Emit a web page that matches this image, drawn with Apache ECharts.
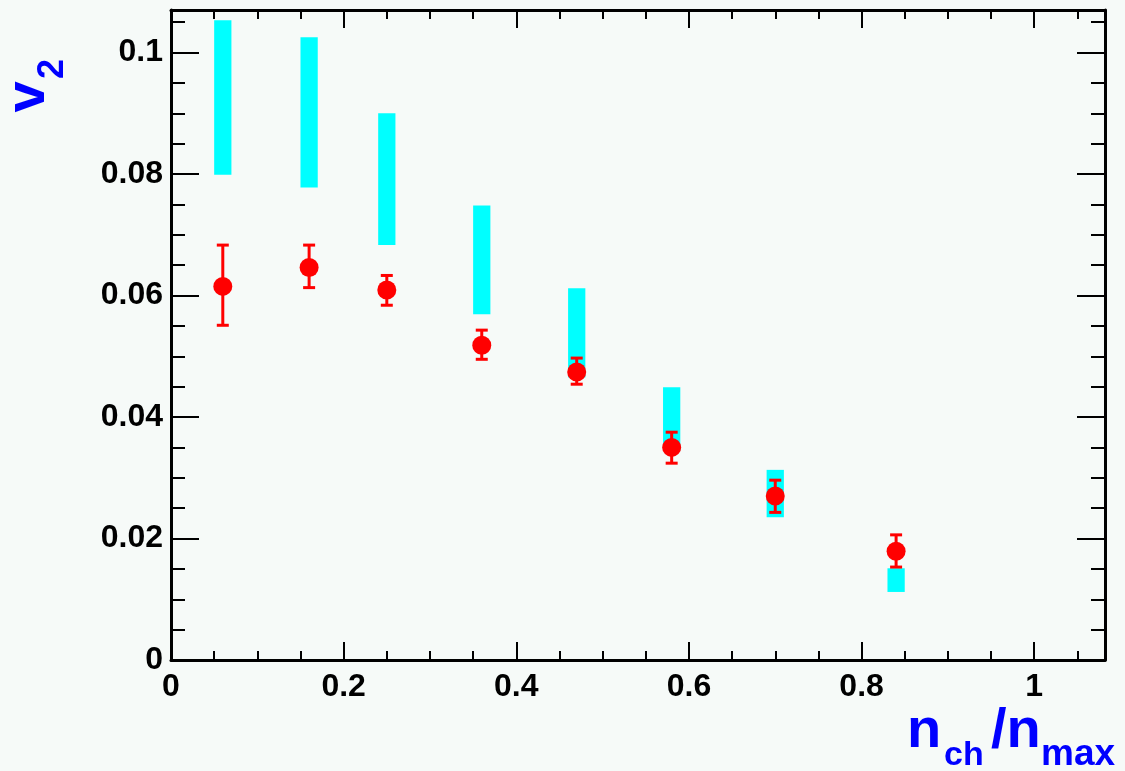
<!DOCTYPE html>
<html>
<head>
<meta charset="utf-8">
<script src="https://cdn.jsdelivr.net/npm/echarts@6/dist/echarts.min.js"></script>
<style>
  html, body { margin: 0; padding: 0; background: #f6faf8; }
  #container { width: 1125px; height: 771px; }
</style>
</head>
<body>
<div id="container"></div>
<script>
// v2 vs n_ch/n_max
const xs     = [0.06, 0.16, 0.25, 0.36, 0.47, 0.58, 0.70, 0.84];
const v2     = [0.0615, 0.0646, 0.0609, 0.0518, 0.0474, 0.0350, 0.0270, 0.0179];
const statLo = [0.0551, 0.0613, 0.0584, 0.0495, 0.0454, 0.0324, 0.0243, 0.0153];
const statHi = [0.0683, 0.0683, 0.0633, 0.0543, 0.0497, 0.0375, 0.0296, 0.0206];
const sysLo  = [0.0799, 0.0778, 0.0683, 0.0569, 0.0465, 0.0345, 0.0235, 0.0112];
const sysHi  = [0.1053, 0.1025, 0.0900, 0.0748, 0.0612, 0.0449, 0.0313, 0.0151];

const X_MAX = 1.082;
const Y_MAX = 0.107;
const BOX_HALF = 0.01;   // half width of systematic boxes (x units)
const CAP = 6;           // error bar cap half width, px

const chart = echarts.init(document.getElementById('container'), null, { renderer: 'canvas' });

const gridRect = { left: 171, right: 20, top: 10, bottom: 111 };
const labelFont = { color: '#000', fontFamily: 'Liberation Sans, Arial, sans-serif', fontWeight: 'bold', fontSize: 32 };
const black = '#000';

function xAx(gridIndex, position, interval, tickLen, withLabel, withLine) {
  return {
    type: 'value', gridIndex, position, min: 0, max: X_MAX, interval,
    axisLine: { show: withLine, onZero: false, lineStyle: { color: black, width: 3 } },
    axisTick: { show: true, inside: true, length: tickLen, lineStyle: { color: black, width: 2 } },
    axisLabel: { show: withLabel, margin: 11, showMaxLabel: false, ...labelFont },
    splitLine: { show: false }
  };
}
function yAx(gridIndex, position, interval, tickLen, withLabel, withLine) {
  return {
    type: 'value', gridIndex, position, min: 0, max: Y_MAX, interval,
    axisLine: { show: withLine, onZero: false, lineStyle: { color: black, width: 3 } },
    axisTick: { show: true, inside: true, length: tickLen, lineStyle: { color: black, width: 2 } },
    axisLabel: { show: withLabel, margin: 8, showMaxLabel: false, ...labelFont },
    splitLine: { show: false }
  };
}

function renderBox(params, api) {
  const x = api.value(0), lo = api.value(1), hi = api.value(2);
  const p1 = api.coord([x - BOX_HALF, hi]);
  const p2 = api.coord([x + BOX_HALF, lo]);
  return {
    type: 'rect',
    shape: { x: p1[0], y: p1[1], width: p2[0] - p1[0], height: p2[1] - p1[1] },
    style: { fill: '#00ffff' }
  };
}

function renderErr(params, api) {
  const x = api.value(0);
  const top = api.coord([x, api.value(2)]);
  const bot = api.coord([x, api.value(1)]);
  const st = { stroke: '#ff0000', lineWidth: 3 };
  return {
    type: 'group',
    children: [
      { type: 'line', shape: { x1: top[0], y1: top[1], x2: bot[0], y2: bot[1] }, style: st },
      { type: 'line', shape: { x1: top[0] - CAP, y1: top[1], x2: top[0] + CAP, y2: top[1] }, style: st },
      { type: 'line', shape: { x1: bot[0] - CAP, y1: bot[1], x2: bot[0] + CAP, y2: bot[1] }, style: st }
    ]
  };
}

const blueTitle = { fill: '#0000ff', fontFamily: 'Liberation Sans, Arial, sans-serif', fontWeight: 'bold' };

const option = {
  backgroundColor: '#f6faf8',
  animation: false,
  grid: [
    { ...gridRect },
    { ...gridRect }
  ],
  xAxis: [
    xAx(0, 'bottom', 0.2, 18, true, true),
    xAx(0, 'top', 0.2, 18, false, true),
    xAx(1, 'bottom', 0.05, 9, false, false),
    xAx(1, 'top', 0.05, 9, false, false)
  ],
  yAxis: [
    yAx(0, 'left', 0.02, 28, true, true),
    yAx(0, 'right', 0.02, 28, false, true),
    yAx(1, 'left', 0.005, 14, false, false),
    yAx(1, 'right', 0.005, 14, false, false)
  ],
  series: [
    {
      type: 'custom', xAxisIndex: 0, yAxisIndex: 0,
      renderItem: renderBox,
      data: xs.map((x, i) => [x, sysLo[i], sysHi[i]]),
      z: 1
    },
    {
      type: 'custom', xAxisIndex: 0, yAxisIndex: 0,
      renderItem: renderErr,
      data: xs.map((x, i) => [x, statLo[i], statHi[i]]),
      z: 2
    },
    {
      type: 'scatter', xAxisIndex: 0, yAxisIndex: 0,
      symbol: 'circle', symbolSize: 19,
      itemStyle: { color: '#ff0000', opacity: 1 },
      data: xs.map((x, i) => [x, v2[i]]),
      z: 3
    }
  ],
  graphic: [
    { type: 'text', x: 29, y: 97, rotation: Math.PI / 2,
      style: { text: 'v', fontSize: 56, align: 'center', verticalAlign: 'middle', ...blueTitle } },
    { type: 'text', x: 53, y: 69, rotation: Math.PI / 2,
      style: { text: '2', fontSize: 36, align: 'center', verticalAlign: 'middle', ...blueTitle } },
    { type: 'text', x: 907, y: 732,
      style: { text: 'n', fontSize: 56, align: 'left', verticalAlign: 'middle', ...blueTitle } },
    { type: 'text', x: 944, y: 756,
      style: { text: 'ch', fontSize: 34, align: 'left', verticalAlign: 'middle', ...blueTitle } },
    { type: 'text', x: 991, y: 732,
      style: { text: '/n', fontSize: 56, align: 'left', verticalAlign: 'middle', ...blueTitle } },
    { type: 'text', x: 1041, y: 755,
      style: { text: 'max', fontSize: 37, align: 'left', verticalAlign: 'middle', ...blueTitle } }
  ]
};

chart.setOption(option);
window.addEventListener('resize', () => chart.resize());
</script>
</body>
</html>
